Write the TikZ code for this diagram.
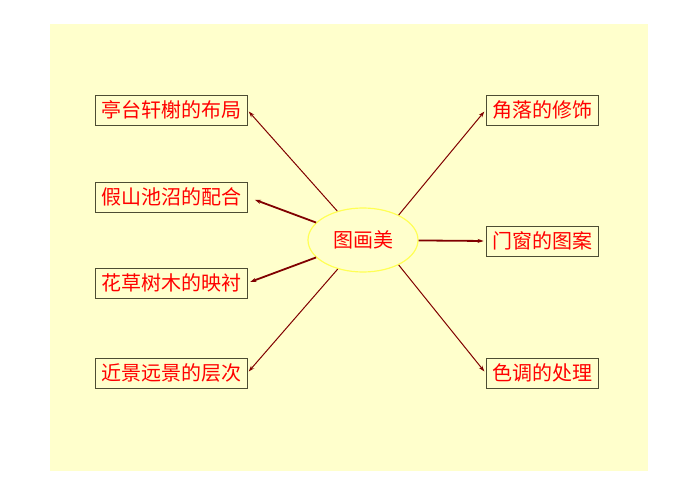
\documentclass[tikz,border=0pt]{standalone}
\usepackage{fontspec}
\newfontfamily\cjk{Noto Sans CJK SC}
\usetikzlibrary{arrows.meta,positioning,shapes.geometric}

\definecolor{bgyellow}{HTML}{FFFFCC}
\definecolor{rimyellow}{HTML}{FFFF55}
\definecolor{arrowred}{HTML}{800000}
\definecolor{boxgray}{HTML}{4D4D33}

\begin{document}
\begin{tikzpicture}[x=1pt,y=-1pt,
    tbox/.style={draw=boxgray,line width=.8pt,rectangle,minimum height=30pt,
      inner xsep=6pt,inner ysep=0pt,text=red,font=\cjk\fontsize{20}{24}\selectfont},
    arr/.style={->,>={Stealth[length=6pt,width=4pt]},draw=arrowred,line width=1pt},
    thick arr/.style={arr,line width=1.8pt}]

  \useasboundingbox (0,0) rectangle (698,494);
  \fill [bgyellow] (50,24) rectangle (648,471);

  \node [draw=rimyellow,fill=bgyellow,line width=1.2pt,ellipse,minimum width=110pt,minimum height=64pt,
    text=red,font=\cjk\fontsize{20}{24}\selectfont] at(363,240) (ctr) {图画美};

  % left column
  \node [tbox] at(171,110) (layout) {亭台轩榭的布局};
  \node [tbox] at(171,197) (rockpond) {假山池沼的配合};
  \node [tbox] at(171,283) (plants) {花草树木的映衬};
  \node [tbox] at(171,373) (depth) {近景远景的层次};

  % right column
  \node [tbox] at(542,110) (corner) {角落的修饰};
  \node [tbox] at(542,241) (window) {门窗的图案};
  \node [tbox] at(542,373) (tone) {色调的处理};

  \foreach \target in {layout,depth}
    \draw [arr,shorten >=2pt] (ctr) -- (\target.east);
  \draw [arr,shorten >=2pt] (ctr.35) -- (corner.west);
  \draw [arr,shorten >=2pt] (ctr.-35) -- (tone.west);

  \draw [thick arr,shorten >=8pt] (ctr) -- (rockpond.east);
  \draw [thick arr,shorten >=3pt] (ctr) -- (plants.east);
  \draw [thick arr,shorten >=2pt] (ctr) -- (window.west);

\end{tikzpicture}
\end{document}
